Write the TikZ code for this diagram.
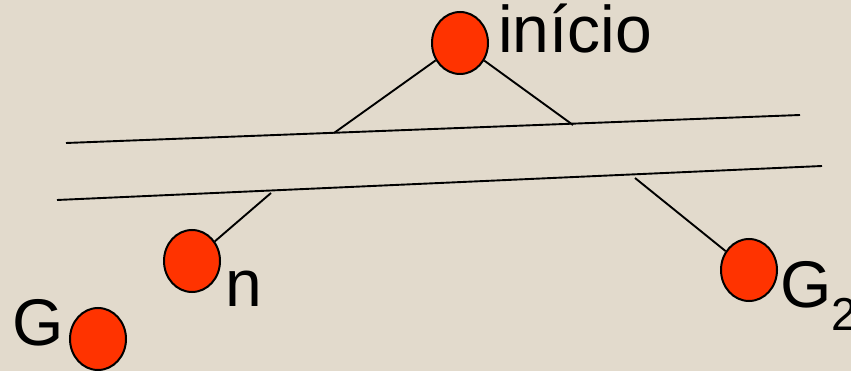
\documentclass[tikz,border=0pt]{standalone}
\usepackage{fontspec}
\setmainfont{Liberation Sans}
\usetikzlibrary{shapes.geometric}
\definecolor{paperbeige}{RGB}{226,218,204}
\definecolor{statered}{RGB}{255,51,0}

\begin{document}
\begin{tikzpicture}[
  x = 1pt, y = -1pt,
  font = \fontsize{66}{78}\selectfont,
  %
  % ── Styles ──────────────────────────────────────────────────────
  state/.style = {draw, ellipse, fill=statered, line width=2pt,
                  minimum width=56pt, minimum height=62pt, inner sep=0pt},
  lbl/.style   = {anchor=base west, inner sep=0pt},
  edge/.style  = {line width=1.9pt},
]

\useasboundingbox[fill=paperbeige] (0,0) rectangle (851,371);

%% ═══════════════════════════════════════════════════════════════════
%% States
%% ═══════════════════════════════════════════════════════════════════
\node[state] (start) at (460,43)  {};
\node[state] (n)     at (192,261) {};
\node[state] (g)     at (98,339)  {};
\node[state] (g2)    at (749,270) {};

\node[lbl] (start-lbl) at (498,53)  {início};
\node[lbl] (n-lbl)     at (225,306) {n};
\node[lbl] (g-lbl)     at (12,345)  {G};
\node[lbl] (g2-lbl)    at (780,307) {G\textsubscript{2}};

%% ═══════════════════════════════════════════════════════════════════
%% Cut lines
%% ═══════════════════════════════════════════════════════════════════
\coordinate (up-l) at (66,143);
\coordinate (up-r) at (800,115);
\coordinate (lo-l) at (57,200);
\coordinate (lo-r) at (822,166);

\draw[edge] (up-l) -- (up-r);
\draw[edge] (lo-l) -- (lo-r);

%% ── Branches ─────────────────────────────────────────────────────
\coordinate (br-a) at (334,133);
\coordinate (br-b) at (573,125);
\coordinate (br-c) at (271,193);
\coordinate (br-d) at (635,178);

\draw[edge] (start) -- (br-a);
\draw[edge] (start) -- (br-b);
\draw[edge] (br-c) -- (n);
\draw[edge] (br-d) -- (g2);

\end{tikzpicture}
\end{document}
